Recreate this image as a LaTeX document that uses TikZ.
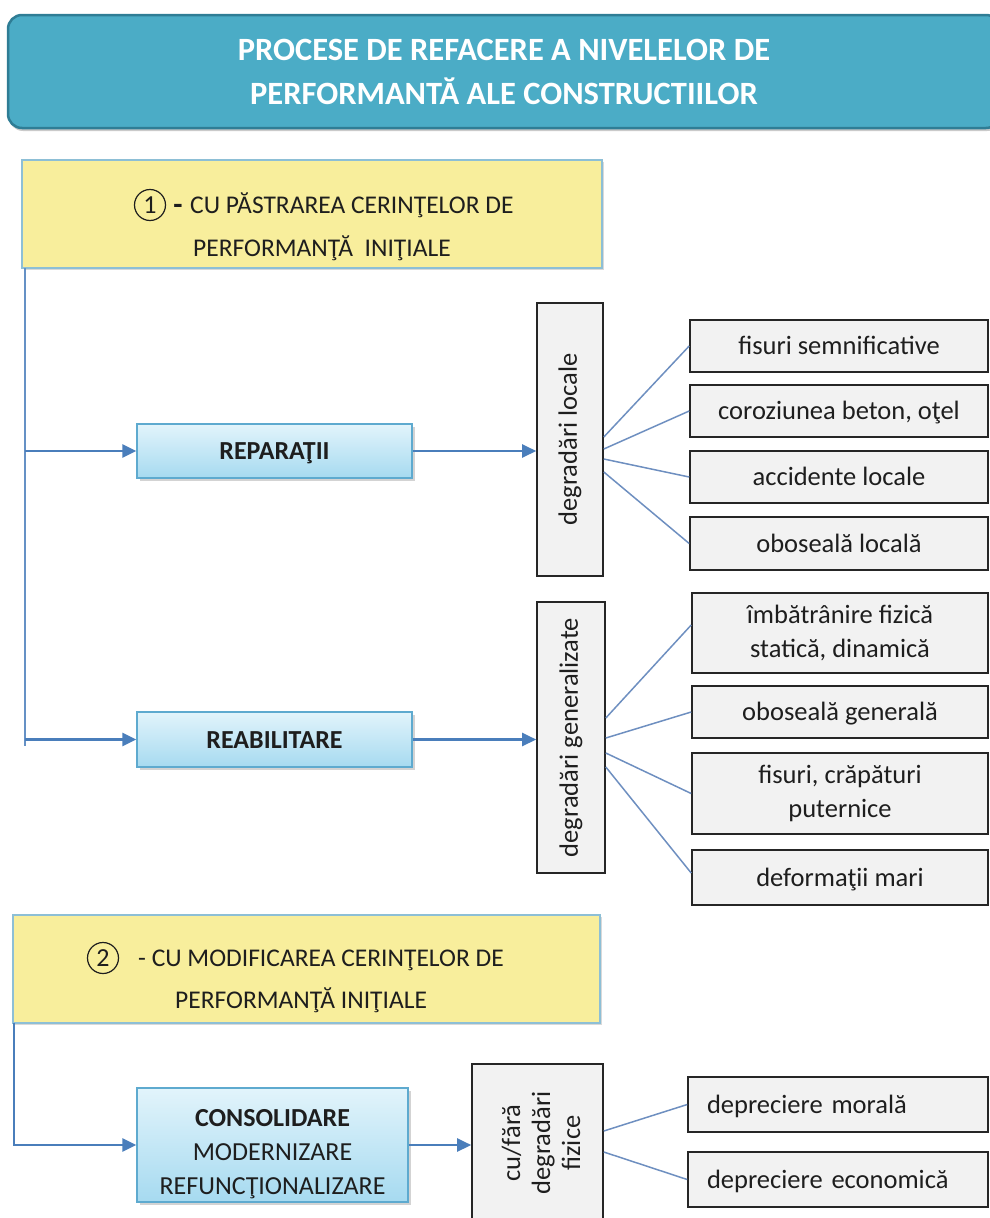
\documentclass[tikz,border=0pt]{standalone}
\usepackage{fontspec}
\setmainfont{Carlito}
\usetikzlibrary{arrows.meta,shadows}
\definecolor{titlefill}{HTML}{4BACC6}
\definecolor{titledraw}{HTML}{2F7D95}
\definecolor{yelfill}{HTML}{F8EE9C}
\definecolor{yeldraw}{HTML}{8DBFD6}
\definecolor{bluetop}{HTML}{E2F4FB}
\definecolor{bluebot}{HTML}{A6DAF0}
\definecolor{bluedraw}{HTML}{5EAACF}
\definecolor{grayfill}{HTML}{F2F2F2}
\definecolor{grayline}{HTML}{262626}
\definecolor{arrowc}{HTML}{4A7EBB}
\definecolor{fanc}{HTML}{6E8FC0}
\definecolor{txt}{HTML}{1E1E1E}
\begin{document}
\begin{tikzpicture}[x=1pt,y=-1pt,
  every node/.style={text=txt, inner sep=0pt},
  ftxt/.style={font=\fontsize{26.5}{34}\selectfont},
  ytxt/.style={font=\fontsize{25.5}{30}\selectfont},
  titlebox/.style={draw=titledraw, line width=2.5pt, fill=titlefill, rounded corners=14pt,
    drop shadow={shadow xshift=1pt, shadow yshift=-3pt, opacity=0.35, fill=black!60},
    text=white, align=center, font=\bfseries\fontsize{32.5}{44}\selectfont},
  yelbox/.style={draw=yeldraw, line width=1.5pt, fill=yelfill,
    drop shadow={shadow xshift=2pt, shadow yshift=-2pt, opacity=0.3, fill=black!50}},
  bluebox/.style={draw=bluedraw, line width=1.3pt, top color=bluetop, bottom color=bluebot,
    drop shadow={shadow xshift=3pt, shadow yshift=-3pt, opacity=0.35, fill=black!50}},
  graybox/.style={draw=grayline, line width=1.6pt, fill=grayfill},
  numcirc/.style={circle, draw=txt, line width=1.2pt, minimum size=31pt, font=\fontsize{26}{30}\selectfont},
  arr/.style={draw=arrowc, line width=2.4pt, -{Triangle[length=14pt,width=13pt]}},
  vline/.style={draw=arrowc!85, line width=2pt},
  fan/.style={draw=fanc, line width=1.5pt},
  one/.style={text height=17pt, text depth=0pt}
]
\useasboundingbox (0,0) rectangle (990,1218);

% title
\node[titlebox, minimum width=992pt, minimum height=113pt] (title) at (504,71.5)
  {PROCESE DE REFACERE A NIVELELOR DE\\PERFORMANTĂ ALE CONSTRUCTIILOR};

% yellow box 1
\node[yelbox, minimum width=580pt, minimum height=108pt] (y1) at (312,214) {};
\node[numcirc] (c1) at (150,205) {1};
\node[font=\bfseries\fontsize{30}{30}\selectfont, anchor=base] (d1) at (178,214) {-};
\node[ytxt, anchor=base west] (t1a) at (190,213) {CU PĂSTRAREA CERINŢELOR DE};
\node[ytxt, anchor=base west] (t1b) at (193,256) {PERFORMANŢĂ\ \ INIŢIALE};

% left vertical line 1
\coordinate (v1top) at (25,268);
\coordinate (v1bot) at (25,746);
\draw[vline] (v1top) -- (v1bot);

% blue boxes
\node[bluebox, one, font=\bfseries\fontsize{26}{34}\selectfont, minimum width=275pt, minimum height=54pt] (rep) at (274.5,451) {REPARAŢII};
\node[bluebox, one, font=\bfseries\fontsize{26}{34}\selectfont, minimum width=275pt, minimum height=55pt] (reab) at (274.5,739.5) {REABILITARE};

\draw[arr] (rep.west -| v1top) -- (rep.west);
\draw[arr] (reab.west -| v1top) -- (reab.west);

% vertical gray boxes
\node[graybox, ftxt, rotate=90, minimum width=273pt, minimum height=66pt] (dl) at (570,439.5) {degradări locale};
\node[graybox, ftxt, rotate=90, minimum width=271pt, minimum height=68pt] (dg) at (571,737.5) {degradări generalizate};

\draw[arr] (rep.east) -- (rep.east -| dl.north);
\draw[arr] (reab.east) -- (reab.east -| dg.north);

% local items
\node[graybox, ftxt, one, minimum width=298pt, minimum height=52pt] (l1) at (839,346) {fisuri semnificative};
\node[graybox, ftxt, one, minimum width=298pt, minimum height=52pt] (l2) at (839,411) {coroziunea beton, oţel};
\node[graybox, ftxt, one, minimum width=298pt, minimum height=52pt] (l3) at (839,477) {accidente locale};
\node[graybox, ftxt, one, minimum width=298pt, minimum height=53pt] (l4) at (839,543.5) {oboseală locală};

\draw[fan] ([yshift=2.5pt]dl.south) -- (l1.west);
\draw[fan] ([yshift=-9.5pt]dl.south) -- (l2.west);
\draw[fan] ([yshift=-19.5pt]dl.south) -- (l3.west);
\draw[fan] ([yshift=-32.5pt]dl.south) -- (l4.west);

% general items
\node[graybox, ftxt, align=center, minimum width=296pt, minimum height=80pt] (g1) at (840,633) {îmbătrânire fizică\\statică, dinamică};
\node[graybox, ftxt, one, minimum width=296pt, minimum height=52pt] (g2) at (840,712) {oboseală generală};
\node[graybox, ftxt, align=center, minimum width=296pt, minimum height=81pt] (g3) at (840,793.5) {fisuri, crăpături\\puternice};
\node[graybox, ftxt, one, minimum width=296pt, minimum height=55pt] (g4) at (840,877.5) {deformaţii mari};

\draw[fan] ([yshift=19.5pt]dg.south) -- ([yshift=8pt]g1.west);
\draw[fan] ([yshift=-0.5pt]dg.south) -- (g2.west);
\draw[fan] ([yshift=-15.5pt]dg.south) -- (g3.west);
\draw[fan] ([yshift=-29.5pt]dg.south) -- ([yshift=4.5pt]g4.west);

% yellow box 2
\node[yelbox, minimum width=587pt, minimum height=108pt] (y2) at (306.5,969) {};
\node[numcirc] (c2) at (103,958) {2};
\node[ytxt, anchor=base west] (t2a) at (138,966) {- CU MODIFICAREA CERINŢELOR DE};
\node[ytxt, anchor=base west] (t2b) at (175,1008) {PERFORMANŢĂ INIŢIALE};

\coordinate (v2top) at (14,1023);

% consolidare
\node[bluebox, minimum width=271pt, minimum height=114pt] (cons) at (272.5,1145) {};
\node[font=\fontsize{26}{34}\selectfont, align=center] (constxt) at (272.5,1154)
  {\textbf{CONSOLIDARE}\\MODERNIZARE\\REFUNCŢIONALIZARE};
\draw[arr] (v2top) |- (cons.west);

% cu/fara
\node[graybox, minimum width=131pt, minimum height=166pt] (cf) at (537.5,1147) {};
\node[rotate=90, align=center, font=\fontsize{26.5}{30}\selectfont] (cftxt) at (541,1143)
  {cu/fără\\degradări\\fizice};
\draw[arr] (cons.east) -- (cons.east -| cf.west);

\node[graybox, ftxt, one, text width=262pt, align=left, minimum width=300pt, minimum height=55pt] (dm) at (838,1104.5) {depreciere morală};
\node[graybox, ftxt, one, text width=262pt, align=left, minimum width=300pt, minimum height=55pt] (de) at (838,1179.5) {depreciere economică};

\draw[fan] ([yshift=16pt]cf.east) -- (dm.west);
\draw[fan] ([yshift=-5pt]cf.east) -- (de.west);
\end{tikzpicture}
\end{document}
